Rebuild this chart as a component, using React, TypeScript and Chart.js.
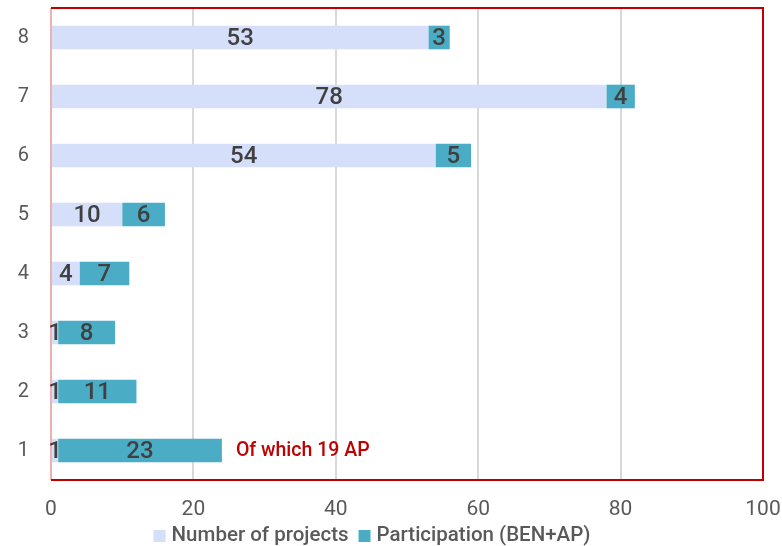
import React, { useEffect, useRef } from "react";
import { Chart, registerables } from "chart.js";

Chart.register(...registerables);

const categories = ["1", "2", "3", "4", "5", "6", "7", "8"];
const numberOfProjects = [1, 1, 1, 4, 10, 54, 78, 53];
const participation = [23, 11, 8, 7, 6, 5, 4, 3];
const xTicks = [0, 20, 40, 60, 80, 100];
const annotationText = "Of which 19 AP";
const annotationCategoryIndex = 0;

const FONT = "Roboto, 'DejaVu Sans', sans-serif";
const RED = "#C00000";
const GREY = "#595959";

const labelsPlugin = {
  id: "segmentLabels",
  afterDatasetsDraw(chart: any) {
    const ctx = chart.ctx;
    ctx.save();
    ctx.font = `500 24px ${FONT}`;
    ctx.fillStyle = "#404040";
    ctx.textAlign = "center";
    ctx.textBaseline = "middle";
    chart.data.datasets.forEach((ds: any, di: number) => {
      const meta = chart.getDatasetMeta(di);
      meta.data.forEach((bar: any, i: number) => {
        const v = ds.data[i];
        const cx = (bar.x + bar.base) / 2;
        ctx.fillText(String(v), cx, bar.y + 1);
      });
    });
    const meta = chart.getDatasetMeta(1);
    const bar = meta.data[annotationCategoryIndex];
    ctx.font = `500 19.5px ${FONT}`;
    ctx.fillStyle = RED;
    ctx.textAlign = "left";
    ctx.fillText(annotationText, bar.x + 14, bar.y + 1);
    ctx.restore();
  },
};

const borderPlugin = {
  id: "redBorderAndLegend",
  afterDraw(chart: any) {
    const { left, right, top, bottom } = chart.chartArea;
    const ctx = chart.ctx;
    ctx.save();
    ctx.lineWidth = 2;
    ctx.strokeStyle = RED;
    ctx.beginPath();
    ctx.moveTo(left, top);
    ctx.lineTo(right, top);
    ctx.lineTo(right, bottom);
    ctx.lineTo(left, bottom);
    ctx.stroke();
    ctx.strokeStyle = "rgba(192,0,0,0.3)";
    ctx.beginPath();
    ctx.moveTo(left, top);
    ctx.lineTo(left, bottom);
    ctx.stroke();

    ctx.font = `500 20.5px ${FONT}`;
    ctx.textBaseline = "middle";
    ctx.textAlign = "left";
    const box = 12;
    const gapBoxText = 6;
    const gapItems = 10;
    const items = chart.data.datasets.map((ds: any) => ({
      label: ds.label,
      color: ds.backgroundColor,
      w: ctx.measureText(ds.label).width,
    }));
    const total =
      items.reduce((a: number, it: any) => a + box + gapBoxText + it.w, 0) + gapItems * (items.length - 1);
    let x = 372 - total / 2;
    const y = 536;
    items.forEach((it: any) => {
      ctx.fillStyle = it.color;
      ctx.fillRect(x, y - box / 2, box, box);
      x += box + gapBoxText;
      ctx.fillStyle = GREY;
      ctx.fillText(it.label, x, y);
      x += it.w + gapItems;
    });
    ctx.restore();
  },
};

export default function App() {
  const ref = useRef<HTMLCanvasElement>(null);
  useEffect(() => {
    if (!ref.current) return;
    const chart = new Chart(ref.current, {
      type: "bar",
      data: {
        labels: categories,
        datasets: [
          {
            label: "Number of projects",
            data: numberOfProjects,
            backgroundColor: "#D6DFFA",
            barPercentage: 0.8,
            categoryPercentage: 0.5,
          },
          {
            label: "Participation (BEN+AP)",
            data: participation,
            backgroundColor: "#4BACC6",
            barPercentage: 0.8,
            categoryPercentage: 0.5,
          },
        ],
      },
      options: {
        indexAxis: "y",
        responsive: false,
        animation: false,
        layout: { autoPadding: false, padding: { top: 8, right: 19, left: 0, bottom: 26 } },
        scales: {
          x: {
            stacked: true,
            min: 0,
            max: 100,
            afterBuildTicks: (s: any) => {
              s.ticks = xTicks.map((v) => ({ value: v }));
            },
            grid: {
              color: (c: any) =>
                c.tick && (c.tick.value === 0 || c.tick.value === 100) ? "rgba(0,0,0,0)" : "#D9D9D9",
              lineWidth: 2,
              drawTicks: false,
            },
            border: { display: false },
            ticks: { color: GREY, font: { family: FONT, size: 21 }, padding: 17, maxRotation: 0 },
            afterFit: (s: any) => {
              s.height = 40;
              s.paddingLeft = 0;
              s.paddingRight = 0;
              s.paddingTop = 0;
              s.paddingBottom = 0;
            },
          },
          y: {
            stacked: true,
            reverse: true,
            grid: { display: false, drawTicks: false },
            border: { display: false },
            ticks: { color: GREY, font: { family: FONT, size: 20 }, padding: 22 },
            afterFit: (s: any) => {
              s.width = 51;
              s.paddingLeft = 0;
              s.paddingRight = 0;
              s.paddingTop = 0;
              s.paddingBottom = 0;
            },
          },
        },
        plugins: {
          legend: { display: false },
          tooltip: { enabled: false },
        },
      },
      plugins: [labelsPlugin, borderPlugin],
    });
    return () => chart.destroy();
  }, []);
  return (
    <div style={{ position: "absolute", left: 0, top: 0, width: 782, height: 546, background: "#fff" }}>
      <canvas ref={ref} width={782} height={546} style={{ width: 782, height: 546 }} />
    </div>
  );
}
